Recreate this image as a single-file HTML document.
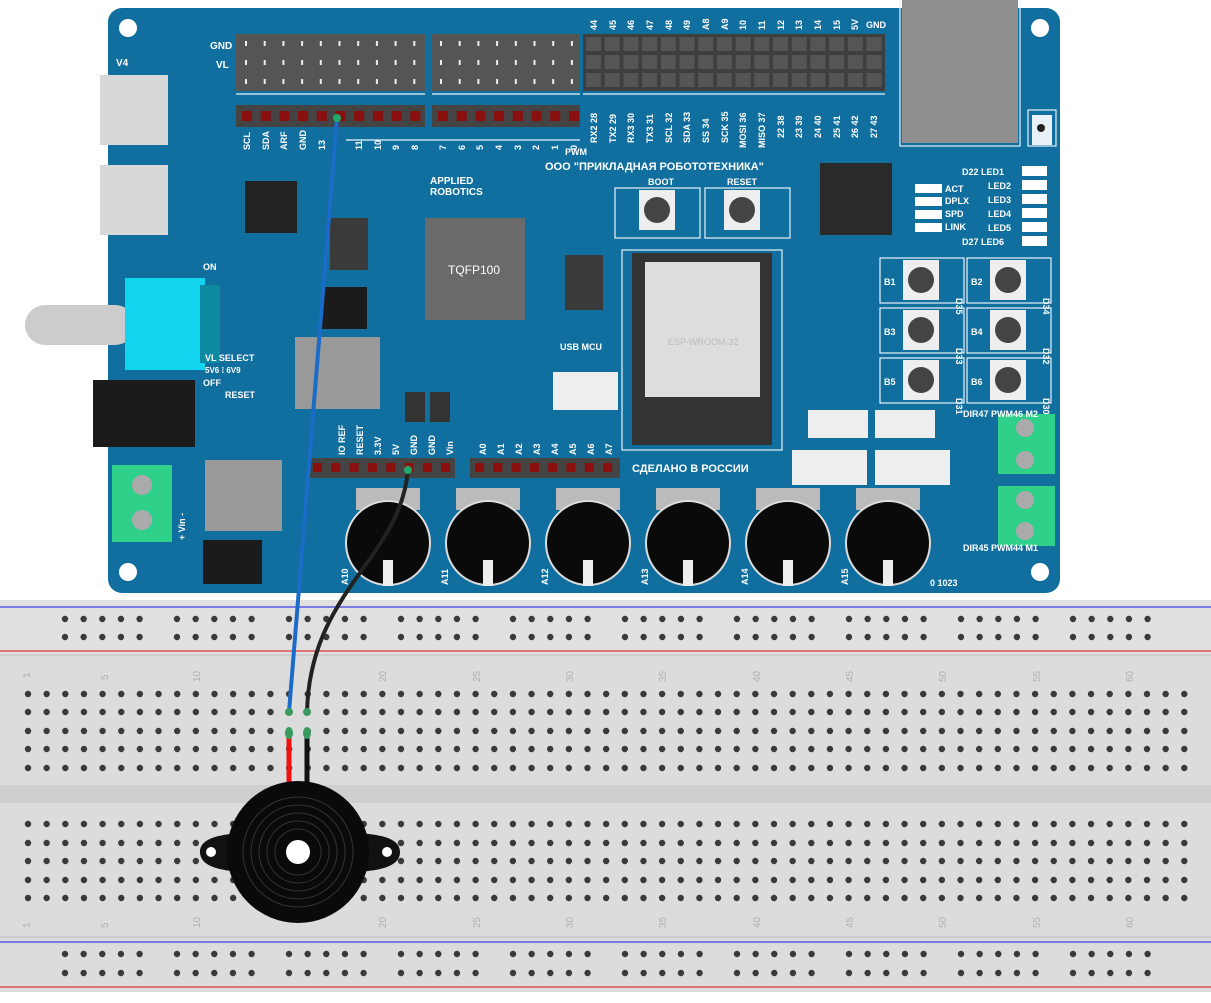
<!DOCTYPE html>
<html><head><meta charset="utf-8">
<style>
html,body{margin:0;padding:0;background:#fff;}
svg{display:block;}
text{font-family:"Liberation Sans","DejaVu Sans",sans-serif;font-weight:bold;fill:#fff;}
.r{font-size:9px;}
</style></head>
<body>
<svg id="s" width="1211" height="1003" viewBox="0 0 1211 1003" xmlns="http://www.w3.org/2000/svg">
<!-- breadboard -->
<rect x="0" y="600" width="1211" height="392" fill="#dcdcdc"/>
<rect x="0" y="600" width="1211" height="55" fill="#e0e0e0"/>
<line x1="0" y1="607" x2="1211" y2="607" stroke="#5a5ae0" stroke-width="1.5"/>
<line x1="0" y1="651" x2="1211" y2="651" stroke="#e05050" stroke-width="1.5"/>
<line x1="0" y1="655" x2="1211" y2="655" stroke="#bcbcbc" stroke-width="1"/>
<rect x="0" y="785" width="1211" height="18" fill="#cfcfcf"/>
<line x1="0" y1="937" x2="1211" y2="937" stroke="#bcbcbc" stroke-width="1"/>
<line x1="0" y1="942" x2="1211" y2="942" stroke="#5a5ae0" stroke-width="1.5"/>
<line x1="0" y1="987" x2="1211" y2="987" stroke="#e05050" stroke-width="1.5"/>
<g id="holes" fill="#3a3a3a"></g>
<g font-size="10">
<text x="30" y="678" style="fill:#b0b0b0;font-weight:normal" transform="rotate(-90 30 678)">1</text>
<text x="108" y="680" style="fill:#b0b0b0;font-weight:normal" transform="rotate(-90 108 680)">5</text>
<text x="200" y="682" style="fill:#b0b0b0;font-weight:normal" transform="rotate(-90 200 682)">10</text>
<text x="386" y="682" style="fill:#b0b0b0;font-weight:normal" transform="rotate(-90 386 682)">20</text>
<text x="480" y="682" style="fill:#b0b0b0;font-weight:normal" transform="rotate(-90 480 682)">25</text>
<text x="573" y="682" style="fill:#b0b0b0;font-weight:normal" transform="rotate(-90 573 682)">30</text>
<text x="666" y="682" style="fill:#b0b0b0;font-weight:normal" transform="rotate(-90 666 682)">35</text>
<text x="760" y="682" style="fill:#b0b0b0;font-weight:normal" transform="rotate(-90 760 682)">40</text>
<text x="853" y="682" style="fill:#b0b0b0;font-weight:normal" transform="rotate(-90 853 682)">45</text>
<text x="946" y="682" style="fill:#b0b0b0;font-weight:normal" transform="rotate(-90 946 682)">50</text>
<text x="1040" y="682" style="fill:#b0b0b0;font-weight:normal" transform="rotate(-90 1040 682)">55</text>
<text x="1133" y="682" style="fill:#b0b0b0;font-weight:normal" transform="rotate(-90 1133 682)">60</text>
<text x="30" y="928" style="fill:#b0b0b0;font-weight:normal" transform="rotate(-90 30 928)">1</text>
<text x="108" y="928" style="fill:#b0b0b0;font-weight:normal" transform="rotate(-90 108 928)">5</text>
<text x="200" y="928" style="fill:#b0b0b0;font-weight:normal" transform="rotate(-90 200 928)">10</text>
<text x="386" y="928" style="fill:#b0b0b0;font-weight:normal" transform="rotate(-90 386 928)">20</text>
<text x="480" y="928" style="fill:#b0b0b0;font-weight:normal" transform="rotate(-90 480 928)">25</text>
<text x="573" y="928" style="fill:#b0b0b0;font-weight:normal" transform="rotate(-90 573 928)">30</text>
<text x="666" y="928" style="fill:#b0b0b0;font-weight:normal" transform="rotate(-90 666 928)">35</text>
<text x="760" y="928" style="fill:#b0b0b0;font-weight:normal" transform="rotate(-90 760 928)">40</text>
<text x="853" y="928" style="fill:#b0b0b0;font-weight:normal" transform="rotate(-90 853 928)">45</text>
<text x="946" y="928" style="fill:#b0b0b0;font-weight:normal" transform="rotate(-90 946 928)">50</text>
<text x="1040" y="928" style="fill:#b0b0b0;font-weight:normal" transform="rotate(-90 1040 928)">55</text>
<text x="1133" y="928" style="fill:#b0b0b0;font-weight:normal" transform="rotate(-90 1133 928)">60</text>
</g>

<!-- board -->
<rect x="108" y="8" width="952" height="585" rx="14" fill="#106f9e"/>
<g fill="#fff">
<circle cx="128" cy="28" r="9"/><circle cx="1040" cy="28" r="9"/>
<circle cx="128" cy="572" r="9"/><circle cx="1040" cy="572" r="9"/>
</g>
<!-- silk outlines -->
<g fill="none" stroke="#e8f4fa" stroke-width="1.2">
<path d="M236 94 L425 94 M432 94 L580 94 M583 94 L885 94"/>
<rect x="615" y="188" width="85" height="50"/><rect x="705" y="188" width="85" height="50"/>
<rect x="880" y="258" width="84" height="45"/><rect x="967" y="258" width="84" height="45"/>
<rect x="880" y="308" width="84" height="45"/><rect x="967" y="308" width="84" height="45"/>
<rect x="880" y="358" width="84" height="45"/><rect x="967" y="358" width="84" height="45"/>
<rect x="622" y="250" width="160" height="200"/>
<rect x="900" y="0" width="120" height="146"/>
<rect x="1028" y="110" width="28" height="36"/>
<path d="M346 140 L580 140"/>
</g>
<!-- headers -->
<rect x="236" y="34" width="189" height="57" fill="#555"/>
<rect x="432" y="34" width="148" height="57" fill="#555"/>
<rect x="583" y="34" width="302" height="57" fill="#3e3e3e"/>
<rect x="236" y="105" width="189" height="22" fill="#444"/>
<rect x="432" y="105" width="148" height="22" fill="#444"/>
<g id="pins"></g>
<text x="210" y="49" font-size="10">GND</text>
<text x="216" y="68" font-size="10">VL</text>
<!-- rotated labels top right header -->
<g class="r">
<text transform="translate(597,30) rotate(-90)">44</text>
<text transform="translate(616,30) rotate(-90)">45</text>
<text transform="translate(634,30) rotate(-90)">46</text>
<text transform="translate(653,30) rotate(-90)">47</text>
<text transform="translate(672,30) rotate(-90)">48</text>
<text transform="translate(690,30) rotate(-90)">49</text>
<text transform="translate(709,30) rotate(-90)">A8</text>
<text transform="translate(728,30) rotate(-90)">A9</text>
<text transform="translate(746,30) rotate(-90)">10</text>
<text transform="translate(765,30) rotate(-90)">11</text>
<text transform="translate(784,30) rotate(-90)">12</text>
<text transform="translate(802,30) rotate(-90)">13</text>
<text transform="translate(821,30) rotate(-90)">14</text>
<text transform="translate(840,30) rotate(-90)">15</text>
<text transform="translate(858,30) rotate(-90)">5V</text>
<text x="866" y="28">GND</text>
<text transform="translate(597,143) rotate(-90)">RX2 28</text>
<text transform="translate(616,143) rotate(-90)">TX2 29</text>
<text transform="translate(634,143) rotate(-90)">RX3 30</text>
<text transform="translate(653,143) rotate(-90)">TX3 31</text>
<text transform="translate(672,143) rotate(-90)">SCL 32</text>
<text transform="translate(690,143) rotate(-90)">SDA 33</text>
<text transform="translate(709,143) rotate(-90)">SS 34</text>
<text transform="translate(728,143) rotate(-90)">SCK 35</text>
<text transform="translate(746,148) rotate(-90)">MOSI 36</text>
<text transform="translate(765,148) rotate(-90)">MISO 37</text>
<text transform="translate(784,138) rotate(-90)">22 38</text>
<text transform="translate(802,138) rotate(-90)">23 39</text>
<text transform="translate(821,138) rotate(-90)">24 40</text>
<text transform="translate(840,138) rotate(-90)">25 41</text>
<text transform="translate(858,138) rotate(-90)">26 42</text>
<text transform="translate(877,138) rotate(-90)">27 43</text>
<text transform="translate(250,150) rotate(-90)">SCL</text>
<text transform="translate(269,150) rotate(-90)">SDA</text>
<text transform="translate(287,150) rotate(-90)">ARF</text>
<text transform="translate(306,150) rotate(-90)">GND</text>
<text transform="translate(325,150) rotate(-90)">13</text>
<text transform="translate(362,150) rotate(-90)">11</text>
<text transform="translate(381,150) rotate(-90)">10</text>
<text transform="translate(399,150) rotate(-90)">9</text>
<text transform="translate(418,150) rotate(-90)">8</text>
<text transform="translate(446,150) rotate(-90)">7</text>
<text transform="translate(465,150) rotate(-90)">6</text>
<text transform="translate(483,150) rotate(-90)">5</text>
<text transform="translate(502,150) rotate(-90)">4</text>
<text transform="translate(521,150) rotate(-90)">3</text>
<text transform="translate(539,150) rotate(-90)">2</text>
<text transform="translate(558,150) rotate(-90)">1</text>
<text transform="translate(577,150) rotate(-90)">0</text>
<text transform="translate(345,455) rotate(-90)">IO REF</text>
<text transform="translate(363,455) rotate(-90)">RESET</text>
<text transform="translate(381,455) rotate(-90)">3.3V</text>
<text transform="translate(399,455) rotate(-90)">5V</text>
<text transform="translate(417,455) rotate(-90)">GND</text>
<text transform="translate(435,455) rotate(-90)">GND</text>
<text transform="translate(453,455) rotate(-90)">Vin</text>
<text transform="translate(486,455) rotate(-90)">A0</text>
<text transform="translate(504,455) rotate(-90)">A1</text>
<text transform="translate(522,455) rotate(-90)">A2</text>
<text transform="translate(540,455) rotate(-90)">A3</text>
<text transform="translate(558,455) rotate(-90)">A4</text>
<text transform="translate(576,455) rotate(-90)">A5</text>
<text transform="translate(594,455) rotate(-90)">A6</text>
<text transform="translate(612,455) rotate(-90)">A7</text>
<text transform="translate(348,585) rotate(-90)">A10</text>
<text transform="translate(448,585) rotate(-90)">A11</text>
<text transform="translate(548,585) rotate(-90)">A12</text>
<text transform="translate(648,585) rotate(-90)">A13</text>
<text transform="translate(748,585) rotate(-90)">A14</text>
<text transform="translate(848,585) rotate(-90)">A15</text>
<text transform="translate(185,540) rotate(-90)">+ Vin -</text>
<text transform="translate(956,298) rotate(90)">D35</text>
<text transform="translate(1043,298) rotate(90)">D34</text>
<text transform="translate(956,348) rotate(90)">D33</text>
<text transform="translate(1043,348) rotate(90)">D32</text>
<text transform="translate(956,398) rotate(90)">D31</text>
<text transform="translate(1043,398) rotate(90)">D30</text>
<text x="884" y="285">B1</text><text x="971" y="285">B2</text>
<text x="884" y="335">B3</text><text x="971" y="335">B4</text>
<text x="884" y="385">B5</text><text x="971" y="385">B6</text>
</g>
<!-- ethernet -->
<rect x="902" y="0" width="116" height="143" fill="#8f8f8f"/>
<rect x="1032" y="115" width="20" height="30" fill="#fff" opacity=".9"/><circle cx="1041" cy="128" r="4" fill="#222"/>
<!-- USB left -->
<rect x="100" y="75" width="68" height="70" fill="#d8d8d8"/>
<rect x="100" y="165" width="68" height="70" fill="#d8d8d8"/>
<text x="116" y="66" font-size="10">V4</text>
<!-- switch -->
<rect x="25" y="305" width="110" height="40" rx="20" fill="#ccc"/>
<rect x="125" y="278" width="80" height="92" fill="#13d4ee"/>
<rect x="200" y="285" width="20" height="78" fill="#0e8aa0"/>
<text x="203" y="270" font-size="9">ON</text>
<text x="203" y="386" font-size="9">OFF</text>
<text x="205" y="361" font-size="9">VL SELECT</text>
<text x="205" y="373" font-size="8">5V6 ⁞ 6V9</text>
<text x="225" y="398" font-size="9">RESET</text>
<!-- DC jack -->
<rect x="93" y="380" width="102" height="67" fill="#1b1b1b"/>
<!-- terminals -->
<rect x="112" y="465" width="60" height="77" fill="#2fd08a"/>
<circle cx="142" cy="485" r="10" fill="#aaa"/><circle cx="142" cy="520" r="10" fill="#aaa"/>
<rect x="998" y="414" width="57" height="60" fill="#2fd08a"/>
<circle cx="1025" cy="428" r="9" fill="#aaa"/><circle cx="1025" cy="460" r="9" fill="#aaa"/>
<rect x="998" y="486" width="57" height="60" fill="#2fd08a"/>
<circle cx="1025" cy="500" r="9" fill="#aaa"/><circle cx="1025" cy="531" r="9" fill="#aaa"/>
<!-- chips -->
<rect x="245" y="181" width="52" height="52" fill="#222"/>
<rect x="425" y="218" width="100" height="102" fill="#6a6a6a"/>
<text x="448" y="274" font-size="12" style="font-weight:normal">TQFP100</text>
<rect x="820" y="163" width="72" height="72" fill="#2a2a2a"/>
<rect x="632" y="253" width="140" height="192" fill="#333"/>
<rect x="645" y="262" width="115" height="135" fill="#ddd"/>
<text x="668" y="345" font-size="9" style="fill:#bbb;font-weight:normal">ESP-WROOM-32</text>
<rect x="322" y="287" width="45" height="42" fill="#1b1b1b"/>
<rect x="295" y="337" width="85" height="72" fill="#999"/>
<rect x="205" y="460" width="77" height="71" fill="#999"/>
<rect x="203" y="540" width="59" height="44" fill="#1b1b1b"/>
<rect x="330" y="218" width="38" height="52" fill="#3a3a3a"/>
<rect x="565" y="255" width="38" height="55" fill="#3a3a3a"/>
<rect x="553" y="372" width="65" height="38" fill="#eee"/>
<rect x="405" y="392" width="20" height="30" fill="#333"/><rect x="430" y="392" width="20" height="30" fill="#333"/>
<!-- buttons -->
<g id="btns"></g>
<text x="648" y="185" font-size="9">BOOT</text>
<text x="727" y="185" font-size="9">RESET</text>
<text x="545" y="170" font-size="11">ООО "ПРИКЛАДНАЯ РОБОТОТЕХНИКА"</text>
<text x="430" y="184" font-size="10">APPLIED</text>
<text x="430" y="195" font-size="10">ROBOTICS</text>
<text x="565" y="155" font-size="9">PWM</text>
<text x="560" y="350" font-size="9">USB  MCU</text>
<text x="632" y="472" font-size="11">СДЕЛАНО В РОССИИ</text>
<text x="945" y="192" font-size="9">ACT</text><text x="945" y="204" font-size="9">DPLX</text><text x="945" y="217" font-size="9">SPD</text><text x="945" y="230" font-size="9">LINK</text>
<text x="962" y="175" font-size="9">D22 LED1</text><text x="988" y="189" font-size="9">LED2</text><text x="988" y="203" font-size="9">LED3</text><text x="988" y="217" font-size="9">LED4</text><text x="988" y="231" font-size="9">LED5</text><text x="962" y="245" font-size="9">D27 LED6</text>
<g fill="#fff"><rect x="1022" y="166" width="25" height="10"/><rect x="1022" y="180" width="25" height="10"/><rect x="1022" y="194" width="25" height="10"/><rect x="1022" y="208" width="25" height="10"/><rect x="1022" y="222" width="25" height="10"/><rect x="1022" y="236" width="25" height="10"/>
<rect x="915" y="184" width="27" height="9"/><rect x="915" y="197" width="27" height="9"/><rect x="915" y="210" width="27" height="9"/><rect x="915" y="223" width="27" height="9"/></g>
<text x="963" y="417" font-size="9">DIR47 PWM46 M2</text>
<text x="963" y="551" font-size="9">DIR45 PWM44 M1</text>
<text x="930" y="586" font-size="9">0   1023</text>
<!-- connectors white -->
<rect x="808" y="410" width="60" height="28" fill="#eee"/><rect x="875" y="410" width="60" height="28" fill="#eee"/>
<rect x="792" y="450" width="75" height="35" fill="#eee"/><rect x="875" y="450" width="75" height="35" fill="#eee"/>
<!-- bottom headers -->
<rect x="308" y="458" width="147" height="20" fill="#444"/>
<rect x="470" y="458" width="150" height="20" fill="#444"/>
<g id="pots"></g>
<g id="bpins"></g>

<!-- wires -->
<path d="M337 118 L289 712" stroke="#1a6cc8" stroke-width="4" fill="none"/>
<path d="M408 470 C400 560 310 590 307 712" stroke="#222" stroke-width="4" fill="none"/>
<circle cx="337" cy="118" r="4" fill="#1faa6a"/>
<circle cx="408" cy="470" r="4" fill="#1faa6a"/>
<line x1="289" y1="730" x2="289" y2="782" stroke="#f01010" stroke-width="5"/>
<line x1="307" y1="730" x2="307" y2="782" stroke="#111" stroke-width="5"/>
<g fill="#3a9a60"><circle cx="289" cy="712" r="4"/><circle cx="307" cy="712" r="4"/><ellipse cx="289" cy="733" rx="4" ry="6"/><ellipse cx="307" cy="733" rx="4" ry="6"/></g>
<!-- buzzer -->
<path d="M200 852 C200 830 250 835 260 830 L340 830 C350 835 400 830 400 852 C400 875 350 870 340 875 L260 875 C250 870 200 875 200 852Z" fill="#111"/>
<circle cx="211" cy="852" r="5" fill="#fff"/><circle cx="387" cy="852" r="5" fill="#fff"/>
<circle cx="298" cy="852" r="71" fill="#0a0a0a"/>
<g fill="none" stroke="#333" stroke-width="1"><circle cx="298" cy="852" r="55"/><circle cx="298" cy="852" r="47"/><circle cx="298" cy="852" r="39"/><circle cx="298" cy="852" r="31"/><circle cx="298" cy="852" r="23"/></g>
<circle cx="298" cy="852" r="12" fill="#fff"/>
</svg>
<script>
var NS="http://www.w3.org/2000/svg";
function el(p,t,a){var e=document.createElementNS(NS,t);for(var k in a)e.setAttribute(k,a[k]);p.appendChild(e);return e;}
var h=document.getElementById('holes');
var rows=[694,712,731,749,768,824,843,861,880,898];
for(var c=0;c<63;c++){var x=28+c*18.65;rows.forEach(function(y){el(h,'circle',{cx:x,cy:y,r:3.2});});}
for(var g=0;g<10;g++)for(var i=0;i<5;i++){var x=65+g*112+i*18.65;[619,637,954,973].forEach(function(y){el(h,'circle',{cx:x,cy:y,r:3.2});});}
var p=document.getElementById('pins');
for(var i=0;i<10;i++)el(p,'rect',{x:242+i*18.7,y:111,width:10,height:10,fill:'#8a1010'});
for(var i=0;i<8;i++)el(p,'rect',{x:438+i*18.7,y:111,width:10,height:10,fill:'#8a1010'});
for(var i=0;i<10;i++)for(var j=0;j<3;j++)el(p,'rect',{x:245+i*18.7,y:41+j*19,width:2,height:5,fill:'#eee'});
for(var i=0;i<8;i++)for(var j=0;j<3;j++)el(p,'rect',{x:440+i*18.7,y:41+j*19,width:2,height:5,fill:'#eee'});
for(var i=0;i<16;i++)for(var j=0;j<3;j++)el(p,'rect',{x:586+i*18.7,y:37+j*18,width:15,height:14,fill:'#555'});
var bp=document.getElementById('bpins');
for(var i=0;i<8;i++)el(bp,'rect',{x:313+i*18.3,y:463,width:9,height:9,fill:'#8a1010'});
for(var i=0;i<8;i++)el(bp,'rect',{x:475+i*18.3,y:463,width:9,height:9,fill:'#8a1010'});
var b=document.getElementById('btns');
[[657,210],[742,210],[921,280],[1008,280],[921,330],[1008,330],[921,380],[1008,380]].forEach(function(q){
 el(b,'rect',{x:q[0]-18,y:q[1]-20,width:36,height:40,fill:'#eee'});
 el(b,'circle',{cx:q[0],cy:q[1],r:13,fill:'#444'});});
var po=document.getElementById('pots');
[388,488,588,688,788,888].forEach(function(x){
 el(po,'rect',{x:x-32,y:488,width:64,height:22,fill:'#bbb'});
 el(po,'circle',{cx:x,cy:543,r:42,fill:'#0a0a0a',stroke:'#ddd','stroke-width':2});
 el(po,'rect',{x:x-5,y:560,width:10,height:26,fill:'#eee'});});
</script>
</body></html>
